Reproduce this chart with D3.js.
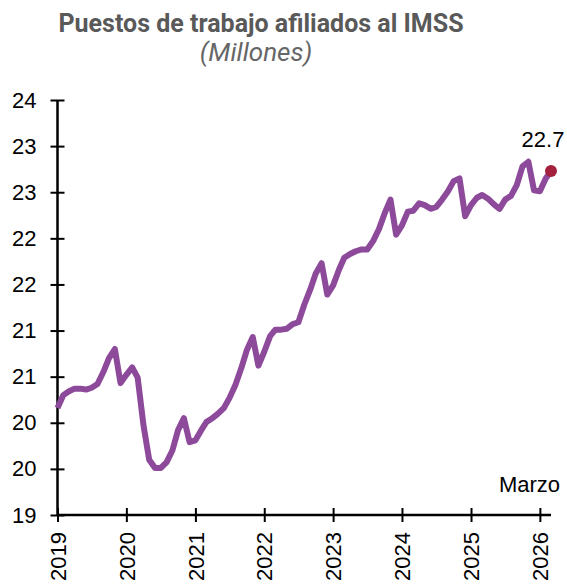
<!DOCTYPE html>
<html>
<head>
<meta charset="utf-8">
<script src="https://cdn.jsdelivr.net/npm/d3@7"></script>
<style>
  body { margin: 0; background: #fff; }
</style>
</head>
<body>
<svg id="chart" width="567" height="588"></svg>
<script>
// monthly from Jan 2019 to Mar 2026
const startMonth = "2019-01";
const values = [
    20.16, 20.30, 20.34, 20.37, 20.37, 20.36, 20.38, 20.42, 20.55, 20.70, 20.80, 20.43,
    20.52, 20.60, 20.49, 19.97, 19.60, 19.51, 19.51, 19.57, 19.70, 19.92, 20.05, 19.79,
    19.81, 19.92, 20.01, 20.05, 20.10, 20.16, 20.27, 20.41, 20.59, 20.79, 20.93, 20.62,
    20.77, 20.94, 21.01, 21.01, 21.02, 21.07, 21.09, 21.28, 21.44, 21.62, 21.73, 21.39,
    21.49, 21.66, 21.79, 21.83, 21.86, 21.88, 21.88, 21.97, 22.10, 22.27, 22.42, 22.04,
    22.14, 22.29, 22.30, 22.38, 22.36, 22.32, 22.34, 22.42, 22.51, 22.62, 22.65, 22.24,
    22.36, 22.44, 22.47, 22.43, 22.37, 22.32, 22.42, 22.46, 22.58, 22.78, 22.83, 22.52,
    22.51, 22.65, 22.73
];
const yTicks = [19, 19.5, 20, 20.5, 21, 21.5, 22, 22.5, 23, 23.5];
const xTickYears = [2019, 2020, 2021, 2022, 2023, 2024, 2025, 2026];
const lastLabel = "22.7";
const monthLabel = "Marzo";

function drawChart() {
    const svg = d3.select("#chart");
    const parseMonth = d3.timeParse("%Y-%m");
    const t0 = parseMonth(startMonth);
    const data = values.map((v, i) => ({date: d3.timeMonth.offset(t0, i), value: v}));

    const x = d3.scaleTime()
        .domain(d3.extent(data, (d) => d.date))
        .range([57.5, 551]);
    const y = d3.scaleLinear()
        .domain([19, 23.5])
        .range([515, 100]);

    const fontAxis = "'Liberation Sans', Arial, sans-serif";

    svg.append("text")
        .attr("x", 261)
        .attr("y", 32)
        .attr("text-anchor", "middle")
        .style("font-family", "Roboto, sans-serif")
        .style("font-weight", "bold")
        .style("font-size", "25px")
        .attr("fill", "#595959")
        .text("Puestos de trabajo afiliados al IMSS");

    svg.append("text")
        .attr("x", 256)
        .attr("y", 61)
        .attr("text-anchor", "middle")
        .style("font-family", "Roboto, sans-serif")
        .style("font-style", "italic")
        .style("font-size", "26px")
        .attr("fill", "#666666")
        .text("(Millones)");

    // y axis
    const gy = svg.append("g")
        .attr("transform", `translate(${x.range()[0]},0)`)
        .call(d3.axisLeft(y).tickValues(yTicks).tickSize(7).tickPadding(14)
            .tickFormat(d3.format(".0f")));
    gy.select(".domain").attr("stroke", "#000").attr("stroke-width", 2.5)
        .attr("d", `M0,${y(19)}V${y(23.5)}`);
    gy.selectAll(".tick line").attr("x1", 7).attr("x2", -7)
        .attr("stroke", "#000").attr("stroke-width", 2);
    gy.selectAll(".tick text")
        .style("font-family", fontAxis)
        .style("font-size", "22px")
        .attr("fill", "#000");

    // x axis
    const gx = svg.append("g")
        .attr("transform", `translate(0,${y(19)})`)
        .call(d3.axisBottom(x).tickValues(xTickYears.map((yr) => new Date(yr, 0, 1)))
            .tickSize(7).tickFormat(d3.timeFormat("%Y")));
    gx.select(".domain").attr("stroke", "#000").attr("stroke-width", 2.5)
        .attr("d", `M${x.range()[0]},0H${x.range()[1]}`);
    gx.selectAll(".tick line").attr("y1", -7).attr("y2", 7)
        .attr("stroke", "#000").attr("stroke-width", 2);
    gx.selectAll(".tick text")
        .attr("transform", "rotate(-90)")
        .attr("text-anchor", "end")
        .attr("x", -17)
        .attr("y", 0)
        .attr("dy", "0.35em")
        .style("font-family", fontAxis)
        .style("font-size", "22px")
        .attr("fill", "#000");

    const line = d3.line()
        .x((d) => x(d.date))
        .y((d) => y(d.value));

    svg.append("path")
        .datum(data)
        .attr("fill", "none")
        .attr("stroke", "#8d4a9b")
        .attr("stroke-width", 6)
        .attr("stroke-linejoin", "round")
        .attr("stroke-linecap", "butt")
        .attr("d", line);

    const last = data[data.length - 1];
    svg.append("circle")
        .attr("cx", x(last.date))
        .attr("cy", y(last.value))
        .attr("r", 6)
        .attr("fill", "#a3203e");

    svg.append("text")
        .attr("x", x(last.date) - 8)
        .attr("y", y(last.value) - 24)
        .attr("text-anchor", "middle")
        .style("font-family", fontAxis)
        .style("font-size", "22px")
        .attr("fill", "#000")
        .text(lastLabel);

    svg.append("text")
        .attr("x", 560)
        .attr("y", 492)
        .attr("text-anchor", "end")
        .style("font-family", fontAxis)
        .style("font-size", "22px")
        .attr("fill", "#000")
        .text(monthLabel);
}

drawChart();
</script>
</body>
</html>
